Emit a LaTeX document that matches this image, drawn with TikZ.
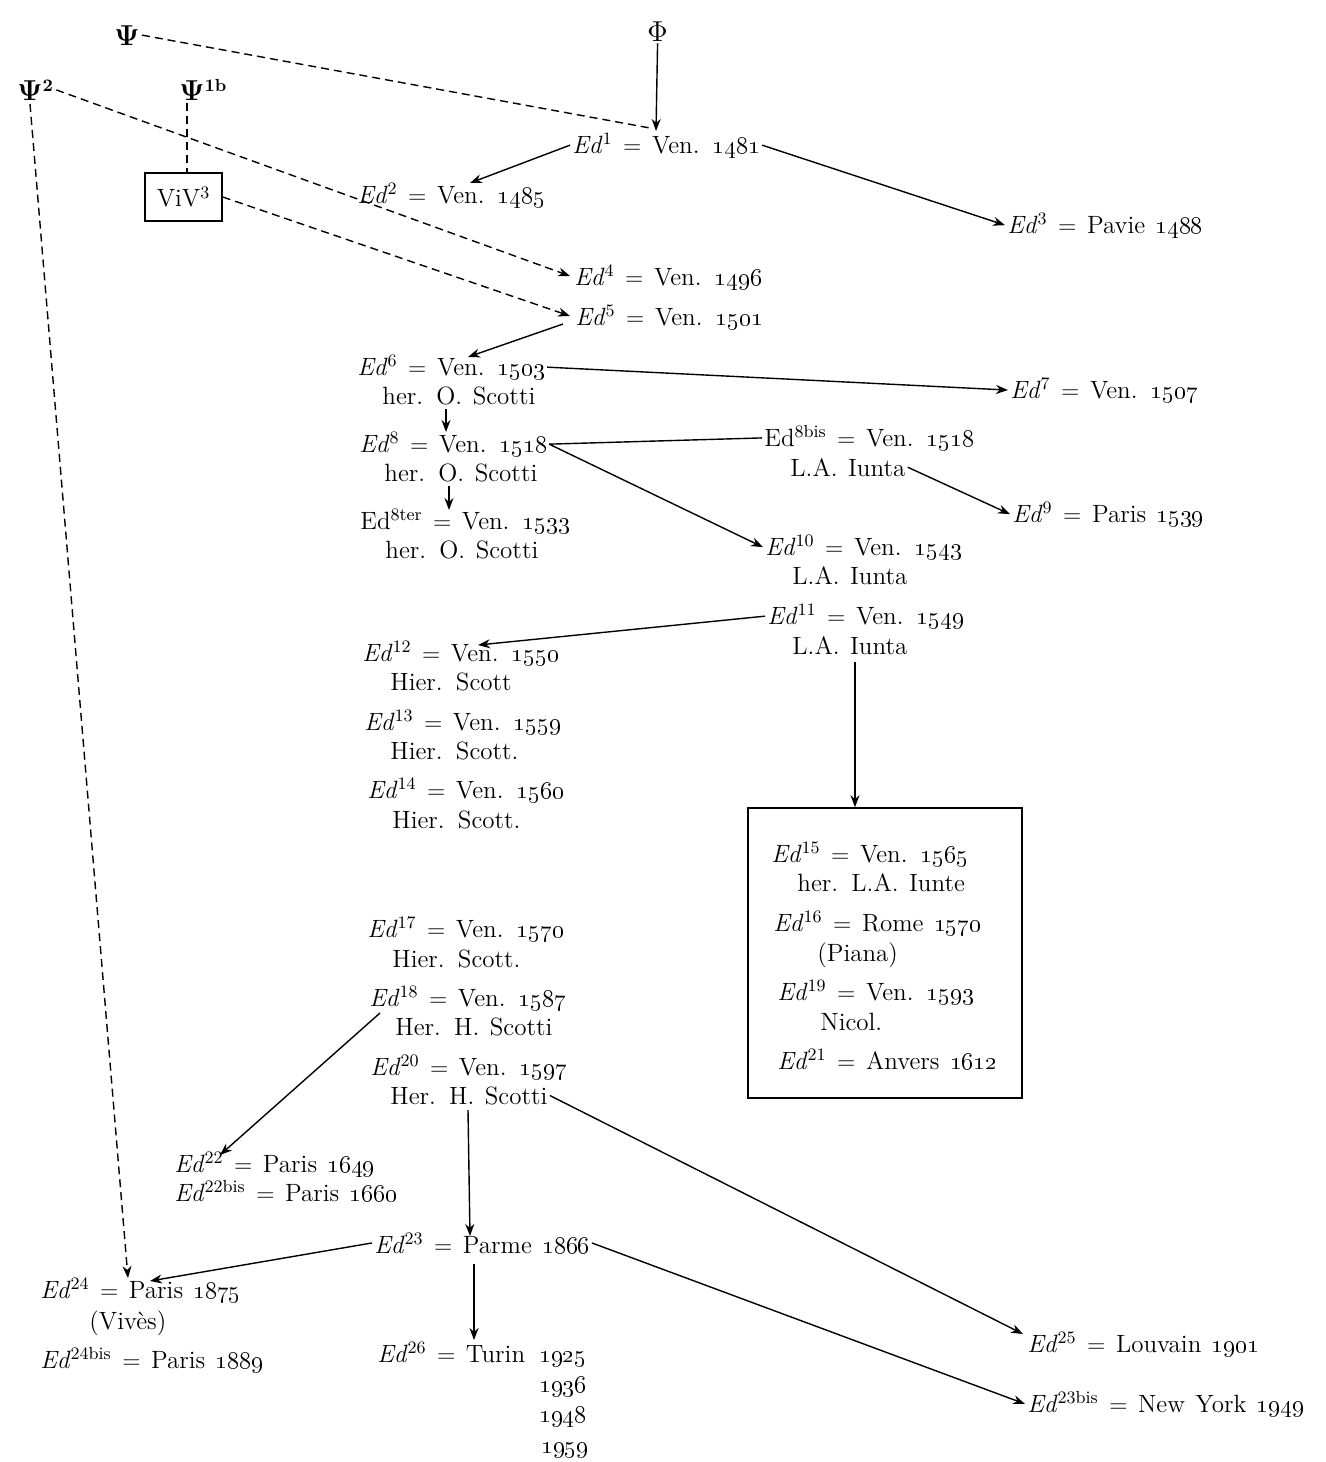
\documentclass[tikz,border=0pt]{standalone}
\usetikzlibrary{arrows.meta,calc}
\newcommand\Ed[1]{\textit{Ed}\textsuperscript{#1}}
\newcommand\Edr[1]{Ed\textsuperscript{#1}}
\newcommand\osn[1]{\oldstylenums{#1}}
\newcommand\eqs{\ $=$\ }
\newcommand\edfont{\fontsize{12.5}{15}\selectfont\spaceskip=0.42em plus 0.1em minus 0.05em\relax}
\newcommand\bigpsi{{\fontsize{15}{17}\selectfont$\mathbf{\Psi}$}}
\begin{document}
\begin{tikzpicture}[x=0.5pt,y=-0.5pt,
  ed/.style={font=\edfont, inner sep=1pt, anchor=base west},
  con/.style={line width=0.7pt, -{Stealth[length=6pt,width=4.5pt]}},
  dsh/.style={line width=0.7pt, dash pattern=on 4pt off 2.5pt},
  dsharr/.style={dsh, -{Stealth[length=6pt,width=4.5pt]}},
  frame/.style={draw, line width=0.8pt}]
\useasboundingbox (0,0) rectangle (1326,1462);

% sources
\node[ed] (psi) at (112,45) {\bigpsi};
\node[ed] (psi2) at (15,100) {\bigpsi\textsuperscript{\textbf{2}}};
\node[ed] (psi1b) at (177,100) {\bigpsi\textsuperscript{\textbf{1b}}};
\node[ed] (phi) at (645,41) {{\fontsize{15}{17}\selectfont$\Phi$}};
\node[frame, font=\edfont, minimum width=38.5pt, minimum height=24pt, inner sep=1pt] (viv) at (183.5,197) {ViV\textsuperscript{3}};

% editions
\node[ed] (e1) at (570,153) {\Ed{1}\eqs Ven. \osn{1481}};
\node[ed] (e2) at (355,203) {\Ed{2}\eqs Ven. \osn{1485}};
\node[ed] (e3) at (1005,233) {\Ed{3}\eqs Pavie \osn{1488}};
\node[ed] (e4) at (572,285) {\Ed{4}\eqs Ven. \osn{1496}};
\node[ed] (e5) at (573,325) {\Ed{5}\eqs Ven. \osn{1501}};
\node[ed] (e6) at (355,375) {\Ed{6}\eqs Ven. \osn{1503}};
\node[ed] (e6b) at (380,404) {her. O. Scotti};
\node[ed] (e7) at (1008,398) {\Ed{7}\eqs Ven. \osn{1507}};
\node[ed] (e8) at (357,452) {\Ed{8}\eqs Ven. \osn{1518}};
\node[ed] (e8b) at (382,481) {her. O. Scotti};
\node[ed] (e8bis) at (762,446) {\Edr{8bis}\eqs Ven. \osn{1518}};
\node[ed] (e8bisb) at (788,476) {L.A. Iunta};
\node[ed] (e9) at (1010,522) {\Ed{9}\eqs Paris \osn{1539}};
\node[ed] (e8t) at (358,529) {\Edr{8ter}\eqs Ven. \osn{1533}};
\node[ed] (e8tb) at (383,558) {her. O. Scotti};
\node[ed] (e10) at (763,555) {\Ed{10}\eqs Ven. \osn{1543}};
\node[ed] (e10b) at (790,584) {L.A. Iunta};
\node[ed] (e11) at (765,624) {\Ed{11}\eqs Ven. \osn{1549}};
\node[ed] (e11b) at (790,654) {L.A. Iunta};
\node[ed] (e12) at (360,661) {\Ed{12}\eqs Ven. \osn{1550}};
\node[ed] (e12b) at (388,690) {Hier. Scott};
\node[ed] (e13) at (362,730) {\Ed{13}\eqs Ven. \osn{1559}};
\node[ed] (e13b) at (388,759) {Hier. Scott.};
\node[ed] (e14) at (365,798) {\Ed{14}\eqs Ven. \osn{1560}};
\node[ed] (e14b) at (390,828) {Hier. Scott.};

\node[frame, minimum width=137pt, minimum height=145pt, inner sep=0pt] (box) at (885,953) {};
\node[ed] (e15) at (769,862) {\Ed{15}\eqs Ven. \osn{1565}};
\node[ed] (e15b) at (795,891) {her. L.A. Iunte};
\node[ed] (e16) at (771,931) {\Ed{16}\eqs Rome \osn{1570}};
\node[ed] (e16b) at (815,961) {(Piana)};
\node[ed] (e19) at (775,1000) {\Ed{19}\eqs Ven. \osn{1593}};
\node[ed] (e19b) at (818,1030) {Nicol.};
\node[ed] (e21) at (775,1069) {\Ed{21}\eqs Anvers \osn{1612}};

\node[ed] (e17) at (365,937) {\Ed{17}\eqs Ven. \osn{1570}};
\node[ed] (e17b) at (390,967) {Hier. Scott.};
\node[ed] (e18) at (367,1006) {\Ed{18}\eqs Ven. \osn{1587}};
\node[ed] (e18b) at (393,1035) {Her. H. Scotti};
\node[ed] (e20) at (368,1075) {\Ed{20}\eqs Ven. \osn{1597}};
\node[ed] (e20b) at (388,1104) {Her. H. Scotti};
\node[ed] (e22) at (172,1172) {\Ed{22}\eqs Paris \osn{1649}};
\node[ed] (e22b) at (172,1201) {\Ed{22bis}\eqs Paris \osn{1660}};
\node[ed] (e23) at (372,1253) {\Ed{23}\eqs Parme \osn{1866}};
\node[ed] (e24) at (38,1298) {\Ed{24}\eqs Paris \osn{1875}};
\node[ed] (e24b) at (87,1329) {(Viv\`es)};
\node[ed] (e24bis) at (38,1368) {\Ed{24bis}\eqs Paris \osn{1889}};
\node[ed] (e26) at (375,1362) {\Ed{26}\eqs Turin};
\node[ed] (y25) at (537,1362) {\osn{1925}};
\node[ed] (y36) at (537,1392) {\osn{1936}};
\node[ed] (y48) at (537,1422) {\osn{1948}};
\node[ed] (y59) at (539,1453) {\osn{1959}};
\node[ed] (e25) at (1025,1352) {\Ed{25}\eqs Louvain \osn{1901}};
\node[ed] (e23bis) at (1025,1412) {\Ed{23bis}\eqs New York \osn{1949}};

% dashed connectors
\draw[dsh] (psi.east) -- ($(e1.base west)+(80,-25)$);
\draw[dsharr] (psi2.east) -- ($(e4.base west)+(-2,-9)$);
\coordinate (p1b) at ($(psi1b.base west)+(10,3)$);
\draw[dsh] (p1b) -- (p1b |- viv.north);
\draw[dsharr] (viv.east) -- ($(e5.base west)+(-3,-9)$);
\draw[dsharr] ($(psi2.base west)+(15,4)$) -- ($(e24.base west)+(90,-20)$);

% solid connectors
\draw[con] (phi.south) -- ($(e1.base west)+(86,-22)$);
\draw[con] (e1.west) -- ($(e2.base west)+(115,-20)$);
\draw[con] (e1.east) -- (e3.west);
\draw[con] ($(e5.base west)+(-10,-1)$) -- ($(e6.base west)+(113,-18)$);
\draw[con] (e6.east) -- (e7.west);
\draw[con] ($(e6b.base west)+(66,5)$) -- ($(e8.base west)+(89,-20)$);
\draw[con] ($(e8b.base west)+(67,5)$) -- ($(e8t.base west)+(91,-19)$);
\draw[line width=0.7pt] (e8.east) -- (e8bis.west);
\draw[con] (e8.east) -- (e10.west);
\draw[con] (e8bisb.east) -- (e9.west);
\draw[con] (e11.west) -- ($(e12.base west)+(118,-16)$);
\coordinate (a11) at ($(e11b.base west)+(65,8)$);
\draw[con] (a11) -- (a11 |- box.north);
\draw[con] ($(e18.base west)+(13,7)$) -- ($(e22.base west)+(48,-17)$);
\coordinate (a20) at ($(e20b.base west)+(80,6)$);
\draw[con] (a20) -- ($(e23.base west)+(98,-17)$);
\draw[con] (e20b.east) -- ($(e25.base west)+(-2,-18)$);
\draw[con] (e23.west) -- ($(e24.base west)+(112,-17)$);
\draw[con] ($(e23.base west)+(102,11)$) -- ($(e26.base west)+(99,-22)$);
\draw[con] (e23.east) -- (e23bis.west);
\end{tikzpicture}
\end{document}
